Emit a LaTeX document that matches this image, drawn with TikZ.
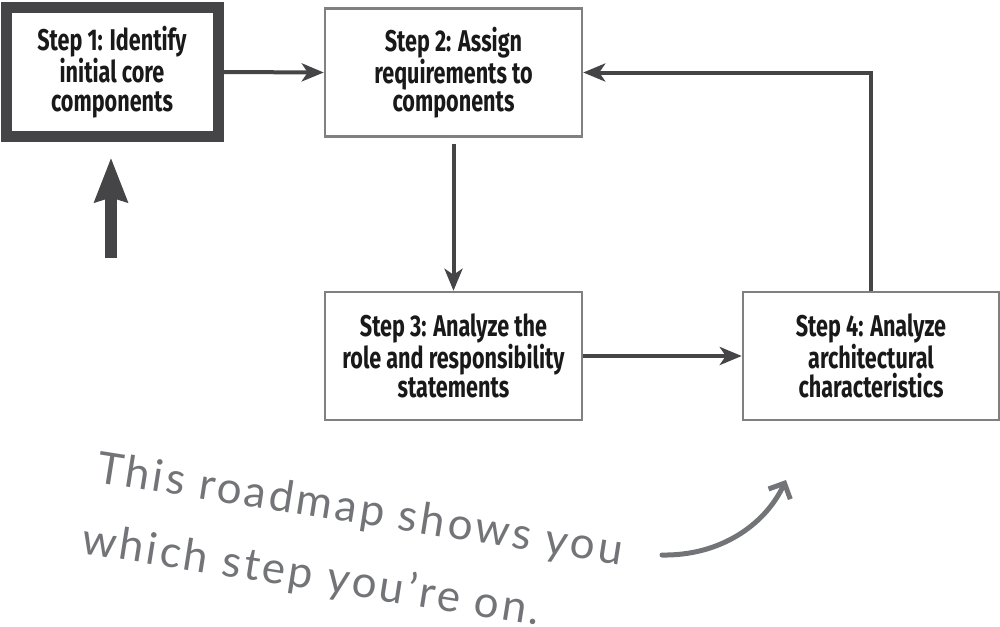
\documentclass[tikz,border=0pt]{standalone}
\usepackage{fontspec}
\usetikzlibrary{arrows.meta}
\newfontfamily\boxfont[FakeStretch=0.72]{Fira Sans}
\newfontfamily\notefont[LetterSpace=7]{Lato}
\definecolor{boxgray}{HTML}{808080}
\definecolor{arrowgray}{HTML}{454547}
\definecolor{notegray}{HTML}{737477}
\tikzset{
  stepbox/.style={draw=boxgray, line width=2.5pt, fill=white, minimum width=257pt, minimum height=128pt,
    align=center, inner sep=0pt, text=black!90, font=\boxfont\bfseries\fontsize{30}{28.5}\selectfont},
  firstbox/.style={stepbox, draw=arrowgray, line width=11pt, minimum width=212pt, minimum height=128pt},
  flow/.style={draw=arrowgray, line width=4pt, -{Stealth[length=22pt,width=18pt,inset=6pt]}},
  bigarrow/.style={draw=arrowgray, line width=12pt, -{Stealth[length=44pt,width=32pt,inset=4pt]}},
  notetext/.style={text=notegray, font=\notefont\fontsize{44}{50}\selectfont, rotate=-9, anchor=base west, inner sep=0pt},
  notearrow/.style={draw=notegray, line width=5pt, line cap=round, -{Straight Barb[length=12pt,width=24pt,line width=5pt]}}
}
\begin{document}
\begin{tikzpicture}[x=1pt,y=-1pt]
\useasboundingbox (0,0) rectangle (1000,626);
\node[firstbox] (s1) at (112,72) {Step 1: Identify\\initial core\\components};
\node[stepbox] (s2) at (453.5,72.5) {Step 2: Assign\\requirements to\\components};
\node[stepbox] (s3) at (453.5,356) {Step 3: Analyze the\\role and responsibility\\statements};
\node[stepbox, minimum width=256pt] (s4) at (871,356) {Step 4: Analyze\\architectural\\characteristics};
\draw[flow] (s1.east) -- (s2.west);
\draw[flow, shorten <=6pt] (s2.south) -- (s3.north);
\draw[flow] (s3.east) -- (s4.west);
\draw[flow] (s4.north) |- (s2.east);
\coordinate (upstart) at (111,258);
\draw[bigarrow, shorten >=16pt] (upstart) -- (upstart |- s1.south);
\node[notetext] (n1) at (95,482) {This roadmap shows you};
\node[notetext] (n2) at (80,553) {which step you’re on.};
\coordinate (tailstart) at (662,555);
\coordinate (tipend) at (786,480);
\draw[notearrow] (tailstart) .. controls (720,556) and (765,525) .. (tipend);
\end{tikzpicture}
\end{document}
